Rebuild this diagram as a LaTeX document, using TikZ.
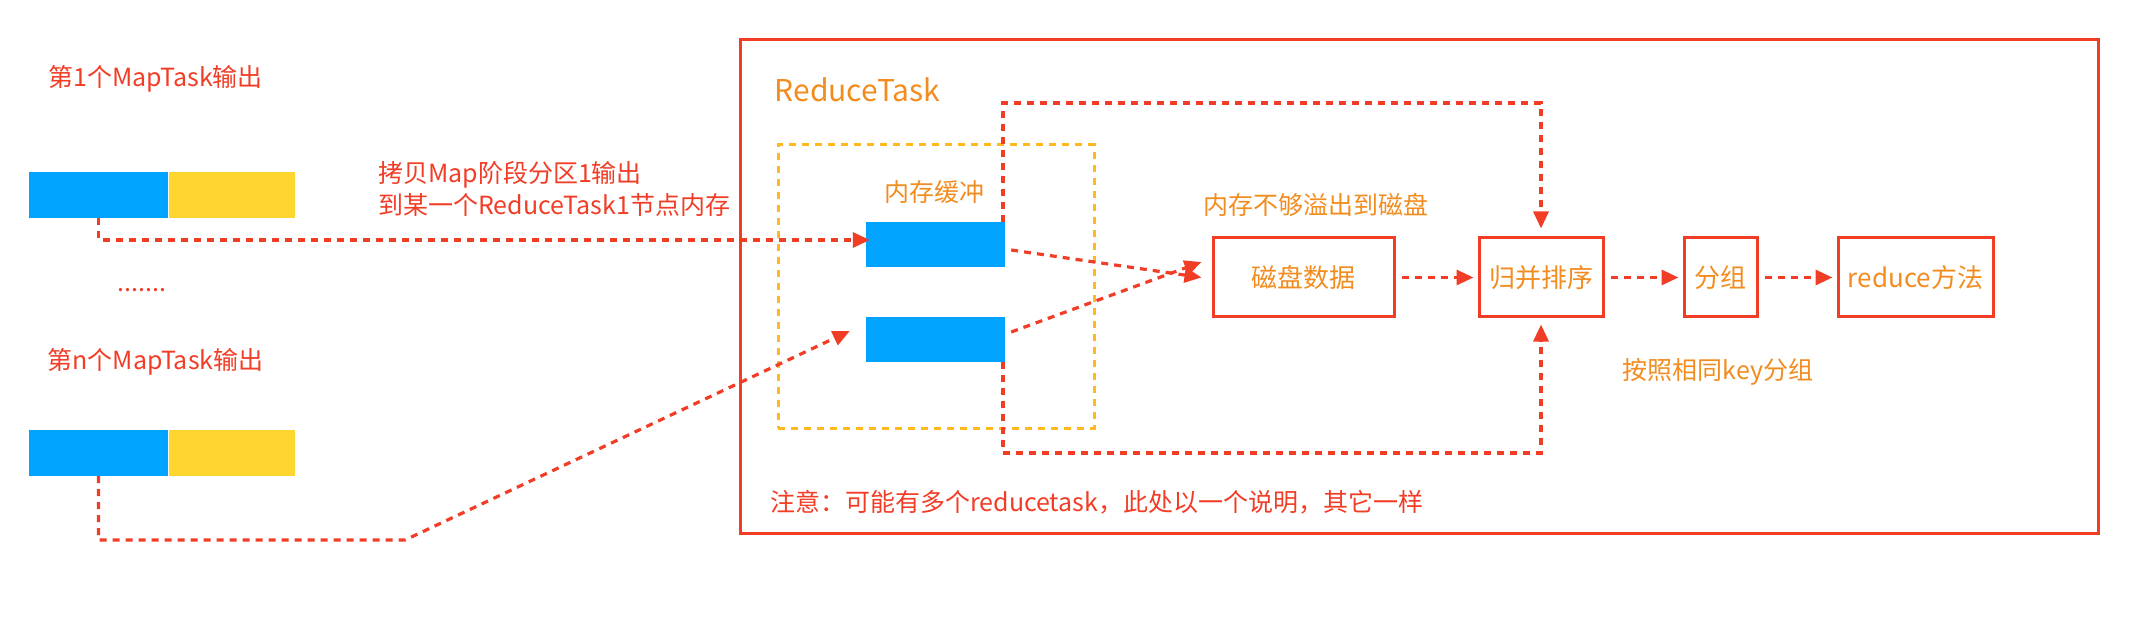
\documentclass[tikz,border=0pt]{standalone}
\usepackage{fontspec}
\setmainfont{Noto Sans CJK SC}
\usetikzlibrary{arrows.meta}
\definecolor{rd}{HTML}{F23D26}
\definecolor{og}{HTML}{F28C1E}
\definecolor{bl}{HTML}{00A3FF}
\definecolor{yl}{HTML}{FFD530}
\definecolor{ob}{HTML}{FFB81F}
\begin{document}
\begin{tikzpicture}[x=1pt,y=-1pt,
  txt/.style={inner sep=0pt, font=\fontsize{25}{30}\selectfont},
  redtxt/.style={txt, text=rd},
  ortxt/.style={txt, text=og},
  blk/.style={draw=none, inner sep=0pt, minimum height=46pt},
  bluebox/.style={blk, fill=bl, minimum width=139pt},
  yelbox/.style={blk, fill=yl, minimum width=126pt},
  stepbox/.style={draw=rd, line width=3pt, inner sep=0pt, minimum height=79pt, text=og, font=\fontsize{26}{30}\selectfont},
  dl/.style={draw=rd, line width=3.2pt, dash pattern=on 7pt off 6pt},
  arr/.style={dl, -{Triangle[length=17pt,width=15pt]}}
]
\useasboundingbox (0,0) rectangle (2142,628);
% outer frame
\node (frame) [draw=rd, line width=3pt, minimum width=1358pt, minimum height=493pt, inner sep=0pt] at (1419,286.5) {};
% orange buffer box
\node (buffer) [draw=ob, line width=3pt, dash pattern=on 7pt off 6pt, minimum width=316pt, minimum height=283pt, inner sep=0pt] at (936,286.5) {};

% map outputs
\node (blue1) [bluebox] at (98.5,195) {};
\node (yel1) [yelbox] at (232,195) {};
\node (blue2) [bluebox] at (98.5,453) {};
\node (yel2) [yelbox] at (232,453) {};

% buffer blocks
\node (buf1) [bluebox, minimum height=45pt] at (935.5,244.5) {};
\node (buf2) [bluebox, minimum height=45pt] at (935.5,339.5) {};

% step boxes
\node (disk) [stepbox, minimum width=181pt] at (1303.5,277.5) {磁盘数据};
\node (merge) [stepbox, minimum width=124pt] at (1541,277.5) {归并排序};
\node (group) [stepbox, minimum width=73pt] at (1720.5,277.5) {分组};
\node (reduce) [stepbox, minimum width=155pt] at (1915.5,277.5) {reduce方法};

% texts
\node (t1) [redtxt] at (155.5,79) {第1个MapTask输出};
\node (tn) [redtxt] at (155.5,362) {第n个MapTask输出};
\node (dots) [redtxt] at (142,290) {.......};
\node (copy1) [redtxt, anchor=west] at (378,175) {拷贝Map阶段分区1输出};
\node (copy2) [redtxt, anchor=west] at (378,205) {到某一个ReduceTask1节点内存};
\node (rt) [ortxt, font=\fontsize{30}{34}\selectfont] at (857.5,90) {ReduceTask};
\node (buflabel) [ortxt] at (934.5,192) {内存缓冲};
\node (spill) [ortxt] at (1316,205) {内存不够溢出到磁盘};
\node (grp) [ortxt] at (1718,372) {按照相同key分组};
\node (note) [redtxt, anchor=west] at (770,502) {注意：可能有多个reducetask，此处以一个说明，其它一样};

% connectors from map outputs
\draw[arr, shorten >=-4pt] (blue1.south) |- ([yshift=4.5pt]buf1.west);
\coordinate (c2) at (405,540);
\draw[arr] (blue2.south) |- (c2) -- ([xshift=-16pt,yshift=8.5pt]buf2.west);

% buffer to disk
\draw[arr] ([xshift=6pt,yshift=-5.5pt]buf1.east) -- ([xshift=-10pt]disk.west);
\draw[arr] ([xshift=6pt,yshift=7.5pt]buf2.east) -- ([xshift=-10pt,yshift=15.5pt]disk.west);

% pipeline
\draw[arr, shorten <=6pt, shorten >=4pt] (disk.east) -- (merge.west);
\draw[arr, shorten <=6pt, shorten >=4pt] (merge.east) -- (group.west);
\draw[arr, shorten <=6pt, shorten >=4pt] (group.east) -- (reduce.west);

% loops
\coordinate (tl) at (1003,103);
\draw[arr, shorten >=8pt] (tl |- buf1.north) -- (tl) -| (merge.north);
\coordinate (bll) at (1003,453);
\draw[arr, shorten >=6pt] (bll |- buf2.south) -- (bll) -| (merge.south);
\end{tikzpicture}
\end{document}
